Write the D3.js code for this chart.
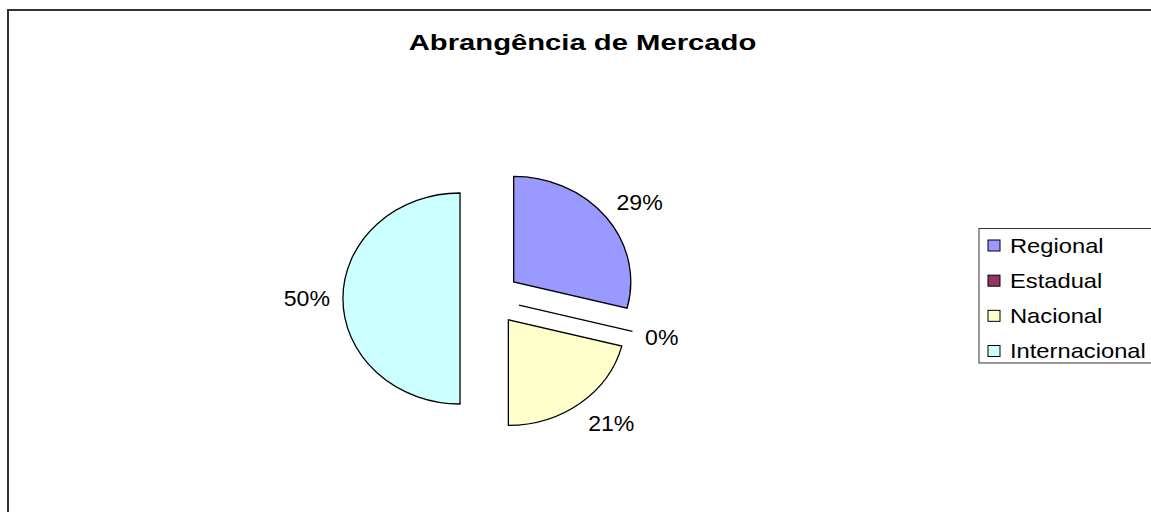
<!DOCTYPE html>
<html lang="pt">
<head>
<meta charset="utf-8">
<title>Abrangência de Mercado</title>
<script src="https://cdn.jsdelivr.net/npm/d3@7"></script>
<style type="text/css">
  body { margin: 0; background: #fff; }
  text { font-family: "Liberation Sans", Arial, sans-serif; fill: #000; }
  .slice { stroke: #000; stroke-width: 1.3px; vector-effect: non-scaling-stroke; }
</style>
</head>
<body>
<script type="text/javascript">

// data
var title = "Abrangência de Mercado";
var categories = ["Regional", "Estadual", "Nacional", "Internacional"];
var values = [29, 0, 21, 50];
var colors = ["#9999FF", "#993366", "#FFFFCC", "#CCFFFF"];

var width = 1151, height = 512;

var svg = d3.select("body")
            .append("svg")
            .attr("width", width)
            .attr("height", height);

svg.append("rect")
   .attr("width", width)
   .attr("height", height)
   .attr("fill", "#fff");

// outer chart frame (runs past the right and bottom edges)
svg.append("rect")
   .attr("x", 8)
   .attr("y", 10)
   .attr("width", 1300)
   .attr("height", 700)
   .attr("fill", "none")
   .attr("stroke", "#333")
   .attr("stroke-width", 2);

// title (text in the original is drawn a bit wide)
svg.append("text")
   .attr("transform", "translate(582.5,50) scale(1.3,1)")
   .attr("text-anchor", "middle")
   .style("font-size", "22.5px")
   .style("font-weight", "bold")
   .text(title);

// pie (slightly wider than tall, like the original)
var cx = 490, cy = 298.5, r = 105.5, sx = 1.11, explode = 27;
var labelGap = 13, labelScale = 1.05;

var pie = d3.pie().sort(null).value(function(d) { return d; });
var arcs = pie(values);
var arc = d3.arc().innerRadius(0).outerRadius(r);

function mid(d) { return (d.startAngle + d.endAngle) / 2; }

var g = svg.append("g")
           .attr("transform", "translate(" + cx + "," + cy + ") scale(" + sx + ",1)");

g.selectAll("path")
 .data(arcs)
 .enter()
 .append("path")
 .attr("class", "slice")
 .attr("fill", function(d, i) { return colors[i]; })
 .attr("transform", function(d) {
    var a = mid(d);
    return "translate(" + (Math.sin(a) * explode) + "," + (-Math.cos(a) * explode) + ")";
 })
 .attr("d", arc);

// percent labels, box placed just outside each (exploded) slice
var total = d3.sum(values);
var labels = svg.selectAll("text.pct")
   .data(arcs)
   .enter()
   .append("text")
   .attr("class", "pct")
   .attr("text-anchor", "middle")
   .attr("dy", "0.35em")
   .style("font-size", "22px")
   .text(function(d) { return Math.round(d.value / total * 100) + "%"; });

labels.attr("transform", function(d) {
   var a = mid(d);
   var hw = this.getComputedTextLength() * labelScale / 2, hh = 12;
   var ex = cx + Math.sin(a) * (r + explode) * sx;
   var ey = cy - Math.cos(a) * (r + explode);
   var x = ex + Math.sin(a) * labelGap + (Math.sin(a) < 0 ? -hw : hw);
   var y = ey - Math.cos(a) * (labelGap + hh);
   return "translate(" + x + "," + y + ") scale(" + labelScale + ",1)";
});

// legend
var legend = svg.append("g");

legend.append("rect")
      .attr("x", 979)
      .attr("y", 228.5)
      .attr("width", 200)
      .attr("height", 134.5)
      .attr("fill", "#fff")
      .attr("stroke", "#333")
      .attr("stroke-width", 1);

var ly = d3.scalePoint()
           .domain(categories)
           .range([245.5, 351])
           .padding(0);

var items = legend.selectAll("g.item")
                  .data(categories)
                  .enter()
                  .append("g")
                  .attr("class", "item");

items.append("rect")
     .attr("x", 988)
     .attr("y", function(d) { return ly(d) - 5.5; })
     .attr("width", 12)
     .attr("height", 11)
     .attr("fill", function(d, i) { return colors[i]; })
     .attr("stroke", "#000")
     .attr("stroke-width", 1);

items.append("text")
     .attr("transform", function(d) { return "translate(1010," + ly(d) + ") scale(1.13,1)"; })
     .attr("dy", "0.35em")
     .style("font-size", "21px")
     .text(function(d) { return d; });

</script>
</body>
</html>
